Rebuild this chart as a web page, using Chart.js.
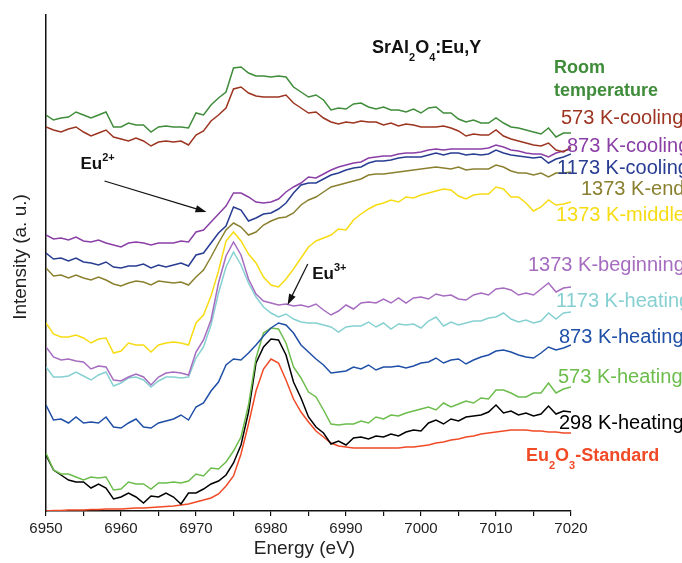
<!DOCTYPE html>
<html>
<head>
<meta charset="utf-8">
<script src="https://cdn.jsdelivr.net/npm/chart.js@4.4.1/dist/chart.umd.min.js"></script>
<style>
  html, body { margin: 0; padding: 0; background: #fff; }
  #wrap { width: 682px; height: 563px; position: relative; }
</style>
</head>
<body>
<div id="wrap"><canvas id="xanes"></canvas></div>
<script>
// Energy grid (eV) in 1 eV steps
const energy = [
  6950, 6951, 6952, 6953, 6954, 6955, 6956, 6957, 6958, 6959,
  6960, 6961, 6962, 6963, 6964, 6965, 6966, 6967, 6968, 6969,
  6970, 6971, 6972, 6973, 6974, 6975, 6976, 6977, 6978, 6979,
  6980, 6981, 6982, 6983, 6984, 6985, 6986, 6987, 6988, 6989,
  6990, 6991, 6992, 6993, 6994, 6995, 6996, 6997, 6998, 6999,
  7000, 7001, 7002, 7003, 7004, 7005, 7006, 7007, 7008, 7009,
  7010, 7011, 7012, 7013, 7014, 7015, 7016, 7017, 7018, 7019,
  7020
];

// Stacked spectra (arbitrary units, offsets included as plotted)
const roomTemp = [
  396, 391, 393, 394, 399, 396, 393, 396, 399, 384,
  384, 388, 386, 386, 379, 384, 385, 384, 384, 383,
  398, 396, 406, 413, 419, 443, 444, 438, 435, 435,
  434, 435, 434, 424, 419, 414, 416, 411, 401, 403,
  402, 407, 408, 404, 402, 404, 401, 401, 399, 402,
  398, 403, 404, 398, 398, 392, 389, 391, 388, 388,
  393, 388, 384, 383, 381, 379, 377, 383, 374, 378,
  378
];
const cooling573 = [
  384, 381, 379, 382, 384, 379, 375, 378, 381, 374,
  372, 370, 373, 370, 365, 369, 370, 369, 370, 366,
  376, 380, 390, 396, 403, 422, 424, 418, 415, 414,
  414, 414, 416, 408, 403, 398, 399, 393, 389, 387,
  389, 388, 390, 389, 389, 386, 388, 385, 387, 386,
  384, 384, 384, 385, 383, 380, 375, 377, 376, 376,
  381, 375, 372, 370, 368, 366, 365, 368, 361, 359,
  364
];
const cooling873 = [
  276, 272, 273, 271, 274, 270, 269, 271, 268, 266,
  264, 268, 269, 268, 266, 268, 268, 268, 270, 269,
  279, 281, 289, 297, 305, 318, 318, 314, 309, 308,
  309, 312, 319, 324, 328, 334, 333, 337, 341, 344,
  346, 348, 349, 353, 354, 355, 355, 357, 358, 358,
  359, 361, 362, 361, 362, 362, 362, 362, 362, 363,
  366, 364, 361, 360, 358, 357, 357, 354, 358, 360,
  362
];
const cooling1173 = [
  258, 252, 253, 250, 253, 249, 248, 246, 249, 244,
  243, 245, 245, 247, 243, 246, 244, 246, 248, 245,
  256, 258, 268, 278, 285, 304, 301, 290, 293, 297,
  298, 302, 308, 318, 326, 328, 328, 332, 336, 338,
  341, 343, 344, 348, 350, 350, 351, 353, 354, 354,
  354, 356, 358, 356, 358, 358, 356, 357, 356, 357,
  361, 358, 356, 355, 354, 353, 354, 348, 352, 354,
  357
];
const end1373 = [
  243, 235, 236, 233, 236, 233, 231, 234, 231, 227,
  225, 228, 230, 229, 226, 230, 229, 228, 229, 226,
  234, 241, 254, 268, 281, 288, 284, 276, 279, 286,
  290, 293, 294, 298, 306, 311, 314, 319, 324, 326,
  328, 330, 332, 336, 337, 337, 338, 339, 340, 341,
  342, 343, 344, 343, 342, 344, 341, 342, 342, 342,
  346, 344, 340, 338, 338, 336, 338, 334, 338, 338,
  339
];
const middle1373 = [
  188, 177, 174, 174, 176, 173, 168, 172, 173, 158,
  160, 168, 166, 166, 159, 166, 168, 169, 168, 166,
  188, 196, 215, 240, 270, 279, 270, 257, 248, 234,
  226, 224, 232, 242, 253, 264, 270, 273, 276, 282,
  281, 291, 297, 302, 306, 308, 311, 309, 314, 313,
  316, 318, 320, 322, 321, 315, 312, 316, 317, 317,
  324, 322, 314, 314, 308, 300, 304, 311, 306, 307,
  309
];
const beginning1373 = [
  164, 154, 151, 152, 150, 149, 142, 145, 144, 131,
  130, 134, 137, 134, 126, 134, 138, 139, 138, 136,
  159, 171, 191, 228, 255, 269, 256, 232, 217, 210,
  208, 206, 207, 205, 206, 204, 207, 201, 196, 200,
  206, 202, 208, 209, 208, 212, 208, 213, 208, 213,
  214, 212, 217, 215, 216, 212, 211, 216, 218, 216,
  222, 223, 221, 216, 218, 216, 222, 228, 219, 223,
  224
];
const heating1173 = [
  144, 134, 134, 135, 139, 135, 131, 136, 139, 125,
  128, 133, 134, 131, 124, 130, 134, 134, 133, 134,
  153, 164, 186, 218, 244, 259, 246, 228, 214, 204,
  198, 194, 197, 192, 189, 188, 188, 186, 184, 179,
  184, 185, 185, 189, 184, 188, 182, 187, 186, 187,
  183, 190, 194, 185, 189, 186, 188, 190, 190, 193,
  194, 198, 192, 189, 191, 188, 190, 198, 192, 198,
  199
];
const heating873 = [
  106, 91, 92, 88, 94, 88, 89, 88, 94, 84,
  83, 88, 92, 84, 83, 88, 90, 92, 96, 91,
  104, 108, 120, 129, 146, 152, 151, 158, 166, 175,
  183, 188, 186, 178, 166, 159, 152, 146, 138, 139,
  140, 144, 142, 146, 141, 144, 144, 145, 143, 145,
  148, 149, 153, 148, 151, 152, 147, 151, 154, 156,
  160, 161, 159, 156, 154, 153, 158, 164, 161, 163,
  166
];
const heating573 = [
  58, 41, 37, 37, 34, 31, 34, 33, 34, 21,
  22, 29, 27, 27, 22, 28, 28, 29, 28, 30,
  37, 35, 43, 42, 49, 60, 74, 106, 153, 178,
  183, 182, 168, 144, 133, 119, 114, 101, 87, 86,
  87, 87, 90, 88, 94, 92, 96, 95, 98, 100,
  102, 104, 101, 108, 104, 107, 110, 108, 113, 112,
  121, 121, 118, 114, 114, 118, 118, 128, 118, 122,
  124
];
const heating298 = [
  56, 41, 36, 31, 29, 29, 23, 27, 23, 12,
  14, 18, 14, 8, 15, 14, 18, 14, 7, 18,
  18, 22, 27, 30, 36, 48, 66, 99, 148, 164,
  172, 171, 156, 129, 113, 94, 84, 78, 67, 70,
  66, 73, 74, 72, 75, 74, 77, 75, 79, 81,
  80, 88, 91, 87, 92, 90, 94, 95, 96, 99,
  106, 98, 100, 96, 98, 95, 97, 105, 97, 100,
  99
];
const eu2o3Standard = [
  0, 0.5, 0.5, 1, 1, 1, 1.5, 1.5, 2, 2,
  2, 2.5, 3, 3, 3.5, 4, 4.5, 5, 6, 7,
  9, 11, 13, 17, 25, 35, 57, 87, 120, 142,
  152, 148, 131, 112, 99, 89, 80, 74, 68, 65,
  64, 63, 63, 63, 63, 63, 63, 63, 64, 64,
  65, 66, 68, 69, 71, 72, 74, 75, 77, 78,
  79, 80, 81, 81, 81, 80, 80, 79, 79, 78,
  78
];

const FONT = '"Liberation Sans", Arial, Helvetica, sans-serif';

// name, values, colour (top of the stack first, so it is drawn on top)
const series = [
  ["Room temperature", roomTemp, "#3f8c3a"],
  ["573 K-cooling", cooling573, "#9c3420"],
  ["873 K-cooling", cooling873, "#8a3fa6"],
  ["1173 K-cooling", cooling1173, "#283c92"],
  ["1373 K-end", end1373, "#8a8030"],
  ["1373 K-middle", middle1373, "#f7dc14"],
  ["1373 K-beginning", beginning1373, "#a66cc0"],
  ["1173 K-heating", heating1173, "#86d0d2"],
  ["873 K-heating", heating873, "#1f4fa6"],
  ["573 K-heating", heating573, "#6cbd4c"],
  ["298 K-heating", heating298, "#000000"],
  ["Eu2O3-Standard", eu2o3Standard, "#f04a26"],
];

// Right-hand labels: text runs, left x / centre y in px, colour, size, bold
const sideLabels = [
  [[["Room"]], 554, 67, "#3f8c3a", 18, true],
  [[["temperature"]], 554, 90, "#3f8c3a", 18, true],
  [[["573 K-cooling"]], 561, 117, "#9c3420", 20, false],
  [[["873 K-cooling"]], 567, 145, "#8a3fa6", 20, false],
  [[["1173 K-cooling"]], 557, 167, "#283c92", 20, false],
  [[["1373 K-end"]], 581, 188, "#8a8030", 20, false],
  [[["1373 K-middle"]], 556, 214, "#f7dc14", 20, false],
  [[["1373 K-beginning"]], 528, 264, "#a66cc0", 20, false],
  [[["1173 K-heating"]], 556, 300, "#86d0d2", 20, false],
  [[["873 K-heating"]], 559, 336, "#1f4fa6", 20, false],
  [[["573 K-heating"]], 558, 376, "#6cbd4c", 20, false],
  [[["298 K-heating"]], 559, 422, "#000000", 20, false],
  [[["Eu"], ["2", "sub"], ["O"], ["3", "sub"], ["-Standard"]], 526, 455, "#f04a26", 18, true],
  [[["SrAl"], ["2", "sub"], ["O"], ["4", "sub"], [":Eu,Y"]], 372, 47, "#111111", 18, true],
];

// Oxidation-state markers: label anchor and arrow, in (eV, a.u.)
const markers = [
  { text: "Eu", sup: "2+", at: [6954.6, 348], from: [6957.8, 330], to: [6971.4, 299] },
  { text: "Eu", sup: "3+", at: [6985.5, 238], from: [6984.9, 247], to: [6982.2, 206] },
];

function drawRuns(ctx, x, yMid, runs, size, bold, color) {
  let cx = x;
  const base = yMid + size * 0.36;
  ctx.fillStyle = color;
  ctx.textBaseline = "alphabetic";
  ctx.textAlign = "left";
  runs.forEach(([t, mode]) => {
    const s = mode ? Math.round(size * 0.62) : size;
    ctx.font = (bold ? "bold " : "") + s + "px " + FONT;
    const dy = mode === "sub" ? size * 0.42 : mode === "sup" ? -size * 0.5 : 0;
    ctx.fillText(t, cx, base + dy);
    cx += ctx.measureText(t).width;
  });
}

function drawArrow(ctx, x1, y1, x2, y2) {
  const a = Math.atan2(y2 - y1, x2 - x1);
  const L = 11, W = 3.6;
  ctx.beginPath();
  ctx.moveTo(x1, y1);
  ctx.lineTo(x2 - L * 0.8 * Math.cos(a), y2 - L * 0.8 * Math.sin(a));
  ctx.stroke();
  ctx.beginPath();
  ctx.moveTo(x2, y2);
  ctx.lineTo(x2 - L * Math.cos(a) + W * Math.sin(a), y2 - L * Math.sin(a) - W * Math.cos(a));
  ctx.lineTo(x2 - L * Math.cos(a) - W * Math.sin(a), y2 - L * Math.sin(a) + W * Math.cos(a));
  ctx.closePath();
  ctx.fill();
}

const annotations = {
  id: "annotations",
  afterDraw(chart) {
    const { ctx, scales: { x, y } } = chart;
    ctx.save();

    sideLabels.forEach(([runs, lx, ly, color, size, bold]) =>
      drawRuns(ctx, lx, ly, runs, size, bold, color));

    ctx.strokeStyle = "#111";
    ctx.fillStyle = "#111";
    ctx.lineWidth = 1.2;
    markers.forEach((m) => {
      drawArrow(ctx,
        x.getPixelForValue(m.from[0]), y.getPixelForValue(m.from[1]),
        x.getPixelForValue(m.to[0]), y.getPixelForValue(m.to[1]));
      drawRuns(ctx, x.getPixelForValue(m.at[0]), y.getPixelForValue(m.at[1]),
        [[m.text], [m.sup, "sup"]], 17, true, "#111");
    });

    // axis titles
    ctx.fillStyle = "#222";
    ctx.font = "19px " + FONT;
    ctx.textAlign = "center";
    ctx.textBaseline = "middle";
    ctx.fillText("Energy (eV)", (x.left + x.right) / 2 - 4, 549);
    ctx.translate(21, 257);
    ctx.rotate(-Math.PI / 2);
    ctx.fillText("Intensity (a. u.)", 0, 0);
    ctx.restore();
  },
};

new Chart(document.getElementById("xanes"), {
  type: "line",
  data: {
    datasets: series.map(([name, vals, color]) => ({
      label: name,
      data: energy.map((e, i) => ({ x: e, y: vals[i] })),
      borderColor: color,
      borderWidth: 1.5,
      pointRadius: 0,
      tension: 0,
      fill: false,
    })),
  },
  options: {
    responsive: true,
    maintainAspectRatio: false,
    animation: false,
    layout: { padding: { top: 15, right: 111, bottom: 0, left: 0 } },
    plugins: { legend: { display: false }, tooltip: { enabled: false } },
    scales: {
      x: {
        type: "linear",
        min: 6950,
        max: 7020,
        afterFit: (scale) => { scale.height = 52; },
        ticks: {
          stepSize: 5,
          autoSkip: false,
          maxRotation: 0,
          padding: 4,
          color: "#222",
          font: { family: FONT, size: 15 },
          callback: (v) => (v % 10 === 0 ? String(v) : ""),
        },
        grid: { drawOnChartArea: false, drawTicks: true, tickLength: 5, color: "#111", lineWidth: 1.2 },
        border: { display: true, color: "#111", width: 1.5 },
      },
      y: {
        min: 0,
        max: 496,
        afterFit: (scale) => { scale.width = 46; },
        ticks: { display: false },
        grid: { display: false },
        border: { display: true, color: "#111", width: 1.5 },
      },
    },
  },
  plugins: [annotations],
});
</script>
</body>
</html>
